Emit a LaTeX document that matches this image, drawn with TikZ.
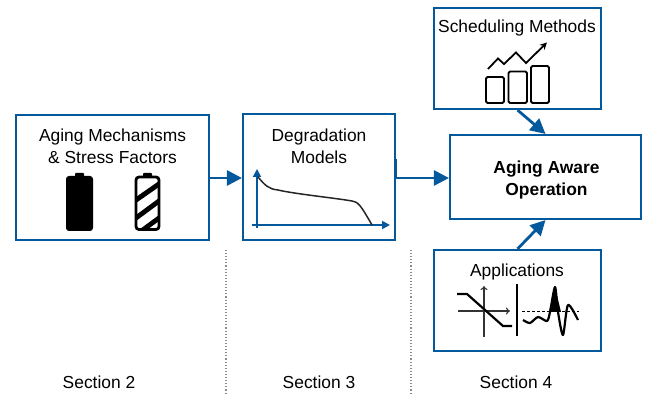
\documentclass[tikz,border=0pt]{standalone}
\usepackage{fontspec}
\setmainfont{Liberation Sans}
\usetikzlibrary{arrows.meta}
\definecolor{bl}{HTML}{04589C}
\tikzset{
 x=1pt,y=-1pt,
 panel/.style={draw=bl,line width=2.1pt,fill=white,minimum width=#1},
 flow/.style={draw=bl,line width=2.8pt,-{Triangle[length=15pt,width=15pt]}},
 axis/.style={draw=bl,line width=1.7pt,-{Triangle[length=8pt,width=8pt]}},
 lab/.style={font=\fontsize{17.4}{22}\selectfont,align=center,inner sep=0pt,text=black},
 sep/.style={draw=gray!90,line width=1.1pt,dotted},
 icon/.style={draw=black,line width=1.9pt,rounded corners=1.5pt,line join=round},
}
\begin{document}
\begin{tikzpicture}
\useasboundingbox (0,0) rectangle (646,395);
\node[panel=193pt,minimum height=125pt] (mech) at (112.5,177.5) {};
\node[panel=152pt,minimum height=126pt] (deg) at (319,177) {};
\node[panel=167pt,minimum height=101pt] (sched) at (517.5,58.5) {};
\node[panel=191pt,minimum height=84pt] (aao) at (545.5,177) {};
\node[panel=167pt,minimum height=101pt] (app) at (517.5,300.5) {};
\draw[flow] (mech.east |- 0,178) -- (deg.west |- 0,178);
\draw[flow] (deg.east |- 0,178) -- (aao.west |- 0,178);
\draw[flow] (sched.south) -- (aao.north);
\draw[flow] (app.north) -- (aao.south);
\draw[bl,line width=2pt] (396,159) -- (396,178);
% labels
\node[lab] (t1) at (112.5,146) {Aging Mechanisms\\\& Stress Factors};
\node[lab] (t2) at (319,146) {Degradation\\Models};
\node[lab] (t3) at (517,28) {Scheduling Methods};
\node[lab,font=\fontsize{17.4}{22}\selectfont\bfseries] (t4) at (546.5,180) {Aging Aware\\Operation};
\node[lab] (t5) at (517,272) {Applications};
\node[lab] (s2) at (99,382) {Section 2};
\node[lab] (s3) at (319,382) {Section 3};
\node[lab] (s4) at (516,382) {Section 4};
% separators
\coordinate (a1) at (226,250); \coordinate (a2) at (226,395);
\coordinate (b1) at (411,250); \coordinate (b2) at (411,395);
\draw[sep] (a1) -- (a2);
\draw[sep] (b1) -- (b2);
% solid battery
\fill[black,rounded corners=3pt] (66,176) rectangle (93,231);
\fill[black,rounded corners=1pt] (75,173) rectangle (84,178);
% striped battery
\fill[black,rounded corners=1pt] (143,173) rectangle (152,178);
\begin{scope}
\clip (136,177) rectangle (159,229);
\fill[black] (136,197) -- (159,181) -- (159,187) -- (136,203) -- cycle;
\fill[black] (136,215) -- (159,198) -- (159,204) -- (136,221) -- cycle;
\fill[black] (136,232) -- (159,215) -- (159,221) -- (136,238) -- cycle;
\end{scope}
\draw[black,line width=2.8pt,rounded corners=3pt] (136,177) rectangle (159,229.5);
% degradation chart
\draw[axis] (257,228) -- (257,169);
\draw[axis] (252,225) -- (390,225);
\draw[draw=black!85,line width=1.5pt] (258,177) .. controls (265,185) and (268,189) .. (278,190) .. controls (295,194) and (335,198) .. (352,201) .. controls (358,202) and (360,204) .. (372,225);
% scheduling icon
\draw[icon] (486,77) rectangle (504,103);
\draw[icon] (508.5,71.5) rectangle (527,103);
\draw[icon] (531,66) rectangle (549,103);
\draw[black,line width=1.8pt,line join=miter,-{Stealth[length=7pt,width=7pt]}] (488,69) -- (498,58.5) -- (504,64) -- (516,52.5) -- (526,63) -- (547,42.5);
% applications icon
\draw[black!80,line width=1.1pt,-{To[length=4pt,width=7pt]}] (484,337) -- (484,286);
\draw[black!80,line width=1.1pt,-{To[length=4pt,width=7pt]}] (458,311) -- (510,311);
\draw[black,line width=2.2pt] (457,294) -- (467,294) -- (503,326) -- (512,326);
\draw[black,line width=2.1pt] (517,284) -- (517,336);
\draw[black,line width=0.9pt,dash pattern=on 3pt off 2pt] (522,311) -- (579,311);
\fill[black] (549,312) -- (555,287) -- (561,312) -- cycle;
\draw[black,line width=2.2pt,line join=round] plot[smooth,tension=0.45] coordinates {(523,320) (530,323) (538,317) (547,321) (550,312) (555,287) (558,312) (563,335) (568,305) (578,320)};
\end{tikzpicture}
\end{document}
